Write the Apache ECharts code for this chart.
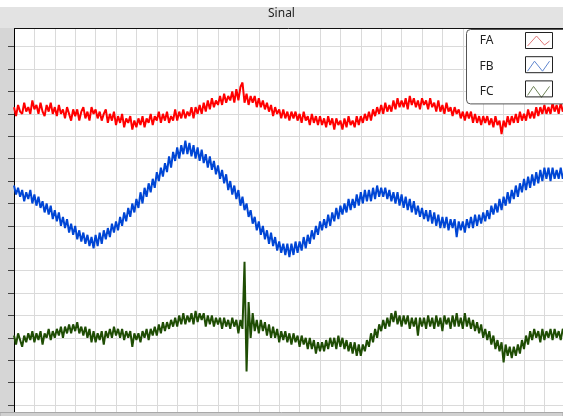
<!DOCTYPE html>
<html>
<head>
<meta charset="utf-8">
<title>Sinal</title>
<script src="https://cdn.jsdelivr.net/npm/echarts@6/dist/echarts.min.js"></script>
<style>
  html, body { margin: 0; padding: 0; background: #fff; }
  #sinal { width: 563px; height: 416px; }
</style>
</head>
<body>
<div id="sinal"></div>
<script>
// leituras dos tres canais, 10 amostras por divisao do eixo x
var seriesNames = ['FA', 'FB', 'FC'];
var fa = [
  133,129,134,131,130,135,131,133,130,136, 132,134,130,135,131,129,134,131,135,130,
  133,129,134,130,132,128,133,130,127,132, 129,132,127,131,133,128,131,127,133,130,
  132,128,131,127,130,132,126,130,127,131, 125,129,126,130,124,128,126,129,123,127,
  124,128,125,129,124,128,126,130,125,129, 127,131,126,130,127,131,126,129,127,132,
  127,131,128,132,128,131,129,133,128,133, 130,134,130,135,131,136,132,137,133,136,
  134,138,134,139,135,138,136,140,135,141, 136,142,144,135,139,134,138,135,138,133,
  137,133,136,132,135,131,134,129,133,130, 132,128,132,128,131,127,131,128,131,127,
  130,126,131,127,129,125,130,126,129,125, 129,125,128,124,129,125,128,123,128,125,
  127,123,128,124,129,125,127,124,129,125, 129,126,130,127,131,127,132,129,133,130,
  134,130,135,131,134,131,136,132,137,133, 136,133,137,132,138,134,137,133,136,132,
  137,134,136,132,137,133,135,131,136,131, 134,130,135,131,133,129,133,130,132,128,
  131,127,131,128,131,126,130,126,129,125, 129,126,129,125,128,124,129,125,127,121,
  127,124,129,125,129,126,130,126,131,127, 130,127,132,128,131,128,133,129,133,130,
  134,130,133,130,135,131,134,130,135,131, 134];
var fb = [
  98,94,97,93,96,91,95,92,96,90, 94,89,93,88,91,86,90,85,89,83,
  87,82,86,80,84,79,83,77,81,76, 80,74,78,73,77,72,76,71,75,70,
  76,71,77,72,78,74,79,75,81,77, 82,78,84,80,86,82,88,84,90,86,
  92,88,95,90,97,93,99,95,101,97, 104,100,106,102,108,104,111,106,113,109,
  115,110,116,112,118,112,117,111,116,110, 115,109,114,108,112,106,111,105,109,103,
  107,101,105,99,103,96,100,94,98,92, 96,89,93,87,90,84,87,81,84,78,
  82,76,80,74,78,72,77,71,75,69, 73,68,72,67,72,66,72,67,73,68,
  73,69,75,70,76,72,78,74,80,76, 82,78,83,79,85,80,86,82,88,83,
  89,85,90,86,92,87,92,88,94,89, 95,90,96,91,96,91,97,92,98,93,
  97,93,97,92,96,91,95,90,95,89, 94,88,93,87,92,86,91,85,89,84,
  88,83,87,82,87,81,86,80,85,79, 84,79,84,78,83,79,83,75,82,78,
  82,77,83,79,84,79,85,80,85,81, 86,82,87,83,89,85,90,86,92,87,
  93,89,95,90,96,92,98,93,99,95, 101,96,102,97,103,98,104,99,105,100,
  106,101,106,100,106,101,105,101,106,101, 105];
var fc = [
  31,27,32,29,26,31,28,32,29,33, 28,32,29,33,27,32,30,34,29,33,
  30,34,31,35,30,35,32,36,32,36, 33,37,32,35,31,35,30,34,28,33,
  28,32,29,33,27,33,30,34,30,35, 31,34,30,34,29,33,30,33,26,32,
  29,32,28,33,30,34,29,34,31,35, 31,36,32,37,33,37,34,38,35,39,
  35,40,36,41,36,40,37,41,36,42, 37,41,38,41,35,40,36,40,35,39,
  36,39,34,39,35,38,34,39,35,38, 32,38,34,64,15,46,30,41,33,38,
  32,38,33,37,31,36,30,35,30,34, 28,33,29,33,28,32,27,32,28,31,
  26,31,27,30,25,30,25,29,23,28, 24,28,24,29,25,30,26,30,25,31,
  26,30,25,29,24,28,23,28,22,27, 22,27,24,29,26,32,28,34,30,36,
  33,38,34,39,35,41,37,42,36,40, 35,40,36,40,34,39,35,39,31,39,
  35,39,34,40,35,39,34,40,35,39, 33,40,36,39,34,40,35,41,35,39,
  34,41,35,39,34,38,33,37,32,36, 30,34,29,33,27,31,25,29,24,28,
  19,27,22,26,21,26,22,27,23,29, 25,31,27,33,29,34,30,33,28,34,
  29,33,30,34,29,34,30,33,29,34, 31];
var yMin = -10, yMax = 170, yStep = 10;
var xStep = 10, xMax = 270;

var colors = ['#ff0000', '#0046d5', '#1f4d04'];
var iconColors = ['#e07a7a', '#5f86cf', '#6f8458'];
// o icone ocupa a metade direita da caixa de 53px
var icons = [
  'path://M0 0M53 16M29 13L38 3L46 12L51 8',
  'path://M0 0M53 16M29 13L36 3L44 13L51 3',
  'path://M0 0M53 16M29 12L35 3L43 14L51 3'
];

function pairs(arr) {
  return arr.map(function (v, i) { return [i, v]; });
}

var chart = echarts.init(document.getElementById('sinal'));
var allData = [fa, fb, fc];

var option = {
  animation: false,
  title: {
    text: 'Sinal',
    left: 'center',
    top: 8,
    padding: [0, 0, 0, 9],
    textStyle: { fontFamily: 'Noto Sans', fontSize: 12, fontWeight: 'normal', color: '#222' }
  },
  legend: {
    orient: 'vertical',
    left: 466.5,
    top: 29.5,
    align: 'right',
    itemWidth: 53,
    itemHeight: 16,
    itemGap: 8.2,
    padding: [3, 30, 4, 13],
    backgroundColor: '#fff',
    borderColor: '#555',
    borderWidth: 1,
    borderRadius: 4,
    selectedMode: false,
    textStyle: { fontFamily: 'Noto Sans', fontSize: 12, color: '#222' },
    data: seriesNames.map(function (n, k) {
      return {
        name: n,
        icon: icons[k],
        itemStyle: { color: 'rgba(0,0,0,0)', borderColor: iconColors[k], borderWidth: 1 }
      };
    })
  },
  grid: { left: 14, top: 24.3, width: 550.8, height: 403.1, outerBoundsMode: 'none', containLabel: false },
  xAxis: {
    type: 'value',
    min: 0,
    max: xMax,
    interval: xStep,
    axisLine: { show: false },
    axisTick: { show: false },
    axisLabel: { show: false },
    splitLine: { lineStyle: { color: '#dadada', width: 1 } }
  },
  yAxis: {
    type: 'value',
    min: yMin,
    max: yMax,
    interval: yStep,
    axisLine: { show: true, lineStyle: { color: '#000', width: 1 } },
    axisTick: { show: true, inside: false, length: 6, lineStyle: { color: '#444' } },
    axisLabel: { show: false },
    splitLine: { lineStyle: { color: '#dadada', width: 1 } }
  },
  graphic: [
    { type: 'rect', z: -1, shape: { x: 0, y: 28, width: 14, height: 388 }, style: { fill: '#d6d6d6' } },
    { type: 'rect', z: 5, shape: { x: 0, y: 7, width: 563, height: 21 }, style: { fill: '#e3e3e3' } },
    { type: 'line', z: 5, shape: { x1: 14, y1: 28.5, x2: 563, y2: 28.5 }, style: { stroke: '#111', lineWidth: 1 } },
    { type: 'rect', z: 5, shape: { x: 0, y: 412.5, width: 563, height: 4 }, style: { fill: '#d0d0d0', stroke: '#a8a8a8', lineWidth: 1 } },
    { type: 'rect', z: 10, shape: { x: 525.5, y: 32.5, width: 27, height: 16 }, style: { fill: 'none', stroke: '#222', lineWidth: 1 } },
    { type: 'rect', z: 10, shape: { x: 525.5, y: 56.7, width: 27, height: 16 }, style: { fill: 'none', stroke: '#222', lineWidth: 1 } },
    { type: 'rect', z: 10, shape: { x: 525.5, y: 80.9, width: 27, height: 16 }, style: { fill: 'none', stroke: '#222', lineWidth: 1 } }
  ],
  series: seriesNames.map(function (n, k) {
    return {
      name: n,
      type: 'line',
      data: pairs(allData[k]),
      showSymbol: false,
      color: colors[k],
      lineStyle: { color: colors[k], width: 2 },
      emphasis: { disabled: true }
    };
  })
};
chart.setOption(option);
</script>
</body>
</html>
